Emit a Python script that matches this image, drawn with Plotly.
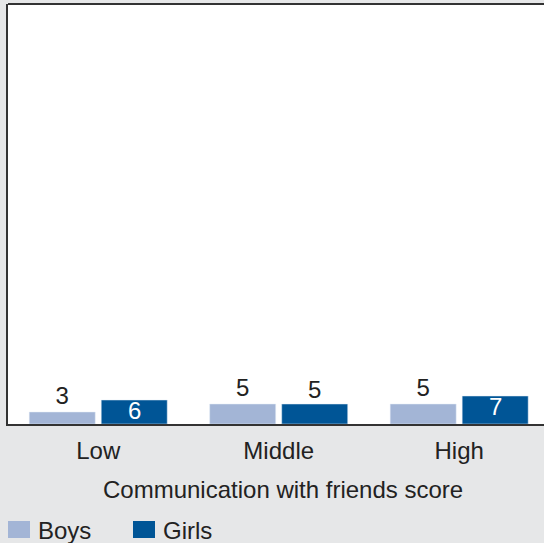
import plotly.graph_objects as go

categories = ["Low", "Middle", "High"]
boys = [3, 5, 5]
girls = [6, 5, 7]
x_title = "Communication with friends score"
series_names = ["Boys", "Girls"]

BOYS_C = "#A3B5D6"
GIRLS_C = "#005596"
BG = "#E6E7E8"
TXT = "#222222"
FONT = "Liberation Sans, Arial, sans-serif"
FS = 24
Y_MAX = 105

fig = go.Figure()
fig.add_trace(go.Bar(x=categories, y=boys, name=series_names[0], marker_color=BOYS_C,
                     text=boys, textposition="outside", textangle=0,
                     textfont=dict(color=TXT, size=FS, family=FONT),
                     cliponaxis=False, showlegend=False))
fig.add_trace(go.Bar(x=categories, y=girls, name=series_names[1], marker_color=GIRLS_C,
                     showlegend=False))

H = 420.0
W = 536.0
def px(x):
    return (x - 8) / W
def py(y):
    return (424 - y) / H

shapes = [dict(type="line", xref="paper", yref="paper", x0=0, x1=1, y0=1, y1=1,
               line=dict(color="#333333", width=2))]
annotations = []

# girls value labels: inside (white) when the bar is tall enough, else above
for c, v in zip(categories, girls):
    bar_px = v / Y_MAX * H
    if bar_px >= 22:
        annotations.append(dict(x=c, y=v, xref="x", yref="y", text=str(v),
                                showarrow=False, xanchor="center", yanchor="top",
                                xshift=36, yshift=5,
                                font=dict(size=FS, color="white", family=FONT)))
    else:
        annotations.append(dict(x=c, y=v, xref="x", yref="y", text=str(v),
                                showarrow=False, xanchor="center", yanchor="bottom",
                                xshift=36, yshift=-1,
                                font=dict(size=FS, color=TXT, family=FONT)))

# axis title (slightly right of the visible plot centre, as in the reference)
annotations.append(dict(xref="paper", yref="paper", x=px(283), y=py(490),
                        text=x_title, showarrow=False, xanchor="center",
                        yanchor="middle", font=dict(size=FS, color=TXT)))

# manual legend
legend_items = [(series_names[0], BOYS_C, 8), (series_names[1], GIRLS_C, 133)]
for name, col, x0 in legend_items:
    shapes.append(dict(type="rect", xref="paper", yref="paper",
                       x0=px(x0), x1=px(x0 + 22), y0=py(538), y1=py(521),
                       fillcolor=col, line=dict(width=0)))
    annotations.append(dict(xref="paper", yref="paper", x=px(x0 + 28), y=py(530),
                            text=name, showarrow=False, xanchor="left",
                            yanchor="middle", font=dict(size=FS, color=TXT)))

fig.update_layout(
    width=544, height=543,
    margin=dict(l=8, r=0, t=4, b=119),
    paper_bgcolor=BG, plot_bgcolor="white",
    barmode="group", bargap=0.202, bargroupgap=0.0833,
    font=dict(family=FONT, size=FS, color=TXT),
    uniformtext=dict(minsize=FS, mode="show"),
    showlegend=False,
    xaxis=dict(range=[-0.5, 2.47], showline=True, linecolor="#333333", linewidth=2,
               ticks="", tickfont=dict(size=FS), showgrid=False,
               ticklabelstandoff=4),
    yaxis=dict(range=[0, Y_MAX], showline=True, linecolor="#333333", linewidth=2,
               showticklabels=False, ticks="", showgrid=False, zeroline=False),
    shapes=shapes,
    annotations=annotations,
)

fig.write_html("out.html", config={"displayModeBar": False},
               post_script="document.body.style.margin='0';document.body.style.overflow='hidden';")
